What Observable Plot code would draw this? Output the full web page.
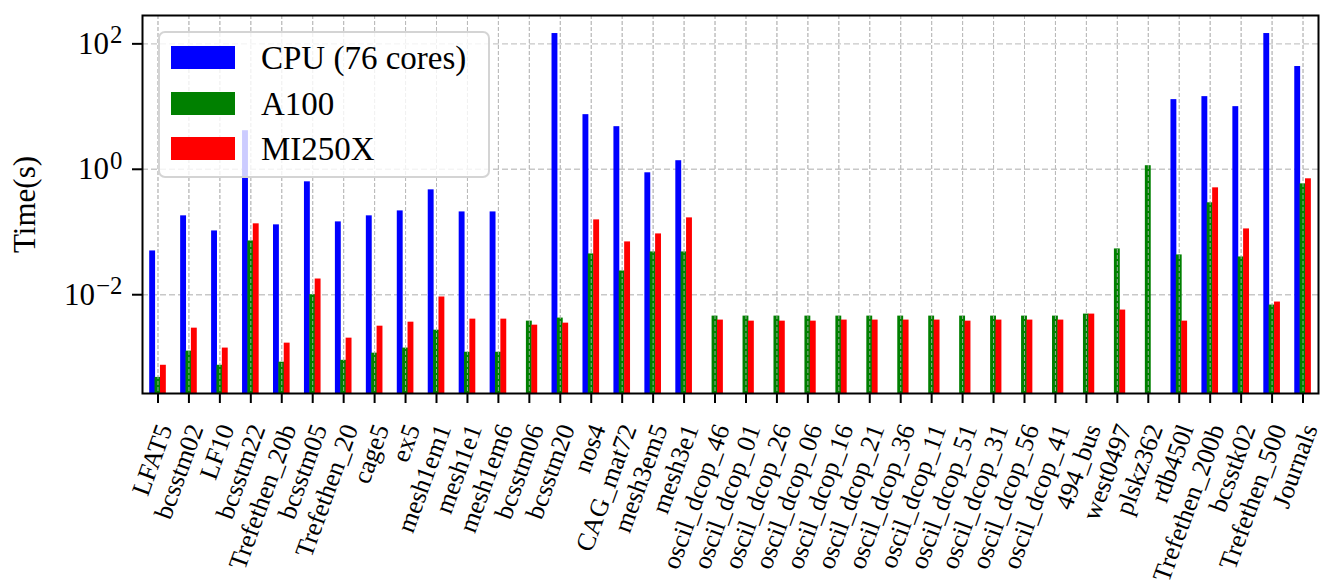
<!DOCTYPE html>
<html>
<head>
<meta charset="utf-8">
<script src="https://cdn.jsdelivr.net/npm/d3@7"></script>
<script src="https://cdn.jsdelivr.net/npm/@observablehq/plot@0.6"></script>
<style>
  html, body { margin: 0; padding: 0; background: white; }
  #wrap { position: relative; width: 1331px; height: 587px; font-family: "Liberation Serif", serif; }
  #legend { position: absolute; left: 158px; top: 31px; width: 332px; height: 147px; box-sizing: border-box;
            background: rgba(255,255,255,0.8); border: 2px solid rgba(204,204,204,0.85); border-radius: 7px; }
  .sw { position: absolute; left: 11px; width: 64px; height: 23px; }
  .lt { position: absolute; left: 101px; font-size: 33px; line-height: 23px; height: 23px; white-space: nowrap; color: black; }
</style>
</head>
<body>
<div id="wrap"></div>
<script>
const categories = ["LFAT5","bcsstm02","LF10","bcsstm22","Trefethen_20b","bcsstm05","Trefethen_20","cage5","ex5","mesh1em1","mesh1e1","mesh1em6","bcsstm06","bcsstm20","nos4","CAG_mat72","mesh3em5","mesh3e1","oscil_dcop_46","oscil_dcop_01","oscil_dcop_26","oscil_dcop_06","oscil_dcop_16","oscil_dcop_21","oscil_dcop_36","oscil_dcop_11","oscil_dcop_51","oscil_dcop_31","oscil_dcop_56","oscil_dcop_41","494_bus","west0497","plskz362","rdb450l","Trefethen_200b","bcsstk02","Trefethen_500","Journals"];

const cpu = [0.0499,0.181,0.104,4.12,0.130,0.631,0.145,0.181,0.217,0.470,0.209,0.209,null,146,7.43,4.78,0.879,1.37,
  null,null,null,null,null,null,null,null,null,null,null,null,null,null,null,12.9,14.4,9.97,146,43.5];

const a100 = [4.8e-4,1.26e-3,7.5e-4,0.072,8.4e-4,0.0100,9.0e-4,1.17e-3,1.41e-3,2.72e-3,1.21e-3,1.21e-3,3.79e-3,4.24e-3,0.0447,0.0239,0.0481,0.0481,
  4.56e-3,4.56e-3,4.56e-3,4.56e-3,4.56e-3,4.56e-3,4.56e-3,4.56e-3,4.56e-3,4.56e-3,4.56e-3,4.56e-3,4.91e-3,0.0537,1.14,0.0431,0.292,0.040,6.84e-3,0.586];

const mi250x = [7.5e-4,2.93e-3,1.41e-3,0.135,1.69e-3,0.0178,2.03e-3,3.15e-3,3.65e-3,9.2e-3,4.08e-3,4.08e-3,3.27e-3,3.52e-3,0.156,0.0695,0.0932,0.168,
  3.94e-3,3.79e-3,3.79e-3,3.79e-3,3.94e-3,3.94e-3,3.94e-3,3.94e-3,3.79e-3,3.94e-3,3.94e-3,3.94e-3,4.91e-3,5.69e-3,null,3.79e-3,0.506,0.112,7.64e-3,0.705];

const seriesNames = ["CPU (76 cores)", "A100", "MI250X"];
const seriesColors = ["#0000ff", "#008000", "#ff0000"];
const seriesValues = [cpu, a100, mi250x];
const yTicks = [1e-2, 1, 1e2];
const yTickLabels = ["10^\u22122", "10^0", "10^2"];

const N = categories.length;
const yMin = Math.pow(10, -3.575), yMax = Math.pow(10, 2.452);
const offsets = [-0.172, 0, 0.175];
const bw = 0.19;

const bars = [];
seriesValues.forEach((vals, s) => vals.forEach((v, i) => {
  if (v != null) bars.push({i, s, value: v, name: seriesNames[s]});
}));

const chart = Plot.plot({
  width: 1331, height: 587,
  marginLeft: 142, marginRight: 13, marginTop: 15, marginBottom: 194,
  style: {fontFamily: "'Liberation Serif', serif", fontSize: "30px", color: "black", background: "white", overflow: "visible"},
  x: {type: "linear", domain: [-0.5, N - 0.5], axis: null},
  y: {type: "log", domain: [yMin, yMax], axis: null},
  marks: [
    Plot.ruleY(yTicks, {stroke: "#c8c8c8", strokeWidth: 1.4, strokeDasharray: "6,3"}),
    Plot.ruleX(d3.range(N), {stroke: "#c0c0c0", strokeWidth: 1, strokeDasharray: "4,2"}),
    Plot.rectY(bars, {
      x1: d => d.i + offsets[d.s] - bw / 2,
      x2: d => d.i + offsets[d.s] + bw / 2,
      y1: yMin, y2: "value",
      fill: d => seriesColors[d.s]
    }),
    Plot.ruleX(d3.range(N), {stroke: "#b8b8b8", strokeOpacity: 0.8, strokeWidth: 1, strokeDasharray: "4,2"}),
    Plot.frame({stroke: "black", strokeWidth: 2}),
    Plot.axisX({ticks: d3.range(N), fill: "none", tickSize: 10, strokeWidth: 2, label: null}),
    Plot.text(d3.range(N), {x: d => d, frameAnchor: "bottom", text: i => categories[i],
      rotate: -70, textAnchor: "end", lineAnchor: "middle", dy: 32, dx: 7, fontSize: 26}),
    Plot.axisY({ticks: yTicks, tickFormat: d => yTickLabels[yTicks.indexOf(d)], tickSize: 10, tickPadding: 10, strokeWidth: 2, fontSize: 31, label: null}),
    Plot.text(["Time(s)"], {frameAnchor: "left", textAnchor: "middle", lineAnchor: "middle", dx: -117, rotate: -90, fontSize: 31})
  ]
});

const wrap = document.getElementById("wrap");
wrap.appendChild(chart);

// superscripts for the log tick labels
d3.select(chart).selectAll('g[aria-label="y-axis tick label"] text').each(function() {
  const t = this.textContent;
  const [base, exp] = t.split("^");
  const sel = d3.select(this);
  sel.text(null);
  sel.append("tspan").text(base);
  sel.append("tspan").attr("dy", "-0.42em").attr("font-size", "0.8em").attr("dx", "1").text(exp);
});

// legend
const legend = document.createElement("div");
legend.id = "legend";
seriesNames.forEach((name, k) => {
  const top = 13 + k * 45.7;
  const sw = document.createElement("div");
  sw.className = "sw";
  sw.style.top = top + "px";
  sw.style.background = seriesColors[k];
  legend.appendChild(sw);
  const lt = document.createElement("div");
  lt.className = "lt";
  lt.style.top = (top + 1) + "px";
  lt.textContent = name;
  legend.appendChild(lt);
});
wrap.appendChild(legend);
</script>
</body>
</html>
